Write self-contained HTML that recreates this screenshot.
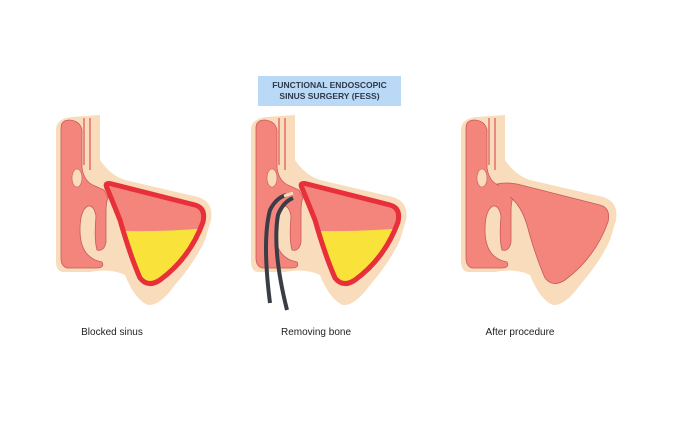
<!DOCTYPE html>
<html><head><meta charset="utf-8"><style>
html,body{margin:0;padding:0;background:#fff;}
svg{display:block;}
</style></head><body>
<svg width="673" height="446" viewBox="0 0 673 446" xmlns="http://www.w3.org/2000/svg">
<defs>
<g id="base">
  <path d="M56,128 Q58,118 72,117 L100,115 L100,160 Q110,175 125,180 L198,197 Q214,202 211,220 L205,240 Q195,262 175,285 Q160,306 148,305 Q135,300 125,275 Q110,268 90,272 L62,272 Q56,270 56,262 Z" fill="#f8dcbc"/>
  <path d="M61,128 Q61,120 70,120 Q80,121 82,130 L82,168 Q84,182 95,186 L104,190 L108,198 Q106,202 106,212 L106,242 Q104,252 97,250 Q94,240 96,216 Q94,205 88,206 Q80,210 80,230 Q80,258 102,262 Q105,268 96,268 L67,268 Q61,266 61,258 Z" fill="#f4857d" stroke="#c75a5a" stroke-width="0.8"/>
  <path d="M84,118 L84,165 M90,118 L90,170" stroke="#e26e68" stroke-width="1.5" fill="none"/>
  <ellipse cx="77" cy="178" rx="5" ry="9" fill="#f8dcbc" stroke="#c75a5a" stroke-width="0.6"/>
</g>
<path id="sin" d="M107,188 Q104,182 112,184 L195,205 Q206,208 203,222 Q190,258 160,280 Q148,288 140,278 Q130,255 120,220 Q112,200 107,188 Z"/>
<clipPath id="c1"><use href="#sin"/></clipPath>
</defs>

<use href="#base"/>
<use href="#sin" fill="#f4857d"/>
<path d="M100,230 Q150,233 210,228 L210,300 L100,300 Z" fill="#f9e23a" clip-path="url(#c1)"/>
<use href="#sin" fill="none" stroke="#e8303a" stroke-width="5"/>

<g transform="translate(195,0)">
<use href="#base"/>
<use href="#sin" fill="#f4857d"/>
<path d="M100,230 Q150,233 210,228 L210,300 L100,300 Z" fill="#f9e23a" clip-path="url(#c1)"/>
<use href="#sin" fill="none" stroke="#e8303a" stroke-width="5"/>
</g>
<path d="M270,303 Q262,240 270,210 Q276,198 286,195" fill="none" stroke="#3a3d45" stroke-width="4"/>
<path d="M287,310 Q272,250 278,215 Q283,202 293,198" fill="none" stroke="#3a3d45" stroke-width="4"/>
<path d="M284,196 L293,193" stroke="#f0e0c0" stroke-width="3"/>

<g transform="translate(405,0)">
<use href="#base"/>
<path d="M92,184 Q100,182 112,184 L195,205 Q206,208 203,222 Q190,258 160,280 Q148,288 140,278 Q130,255 122,225 Q116,205 104,196 Z" fill="#f4857d" stroke="#c75a5a" stroke-width="0.8"/>
<path d="M93,187 L106,196" stroke="#f4857d" stroke-width="5"/>
</g>

<rect x="258" y="76" width="143" height="30" fill="#b9d9f6"/>
<text x="329.5" y="88" font-family="Liberation Sans, sans-serif" font-size="8.5" font-weight="bold" fill="#2f3a4a" text-anchor="middle">FUNCTIONAL ENDOSCOPIC</text>
<text x="329.5" y="99" font-family="Liberation Sans, sans-serif" font-size="8.5" font-weight="bold" fill="#2f3a4a" text-anchor="middle">SINUS SURGERY (FESS)</text>

<g font-family="Liberation Sans, sans-serif" font-size="10" fill="#222" text-anchor="middle">
<text x="112" y="335">Blocked sinus</text>
<text x="316" y="335">Removing bone</text>
<text x="520" y="335">After procedure</text>
</g>
</svg>
</body></html>
